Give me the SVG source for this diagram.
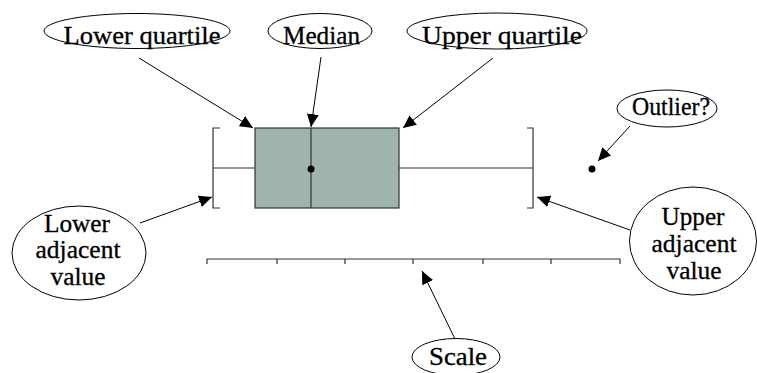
<svg xmlns="http://www.w3.org/2000/svg" width="757" height="373" viewBox="0 0 757 373">
<style>
.lbl{fill:#fff;stroke:#000;stroke-width:1}
.t{font-size:25px;fill:#000;stroke:#000;stroke-width:0.3;text-anchor:middle}
.c{stroke:#000;stroke-width:1;fill:none}
.g{stroke:#333;stroke-width:1.2;fill:none}
</style>
<defs>
<marker id="ah" markerUnits="userSpaceOnUse" markerWidth="14" markerHeight="12" refX="13" refY="6" orient="auto">
<path d="M0,0 L13,6 L0,12 Z" fill="#000"/>
</marker>
</defs>
<rect width="757" height="373" fill="#fff"/>
<g id="plot">
<path class="g" d="M220,128 H213 V208 H220"/>
<line class="g" x1="213" y1="168" x2="255" y2="168"/>
<rect x="255" y="128" width="144" height="80" fill="#9fb4ad" stroke="#333" stroke-width="1.2"/>
<line class="g" x1="311" y1="128" x2="311" y2="208"/>
<line class="g" x1="399" y1="168" x2="533" y2="168"/>
<path class="g" d="M527,128 H533 V208 H527"/>
<circle cx="311" cy="169" r="3.5" fill="#000"/>
<circle cx="592" cy="169" r="3.5" fill="#000"/>
</g>
<g id="scale">
<path class="g" d="M207,264 V259 H620 V264 M277,259 V264 M345,259 V264 M413,259 V264 M483,259 V264 M551,259 V264"/>
</g>
<g id="connectors">
<line class="c" x1="139" y1="58" x2="253" y2="128" marker-end="url(#ah)"/>
<line class="c" x1="321" y1="57" x2="311" y2="127" marker-end="url(#ah)"/>
<line class="c" x1="493" y1="58" x2="403" y2="128" marker-end="url(#ah)"/>
<line class="c" x1="630" y1="126" x2="598" y2="161" marker-end="url(#ah)"/>
<line class="c" x1="140" y1="223" x2="212" y2="197" marker-end="url(#ah)"/>
<line class="c" x1="630" y1="230" x2="537" y2="197" marker-end="url(#ah)"/>
<line class="c" x1="455" y1="339" x2="422" y2="271" marker-end="url(#ah)"/>
</g>
<g font-family="Liberation Serif, DejaVu Serif, serif">
<g id="lower-quartile">
<ellipse class="lbl" cx="137" cy="31" rx="93" ry="17.5"/>
<text class="t" x="142" y="44" textLength="157" lengthAdjust="spacingAndGlyphs">Lower quartile</text>
</g>
<g id="median">
<ellipse class="lbl" cx="320" cy="31" rx="52" ry="17.5"/>
<text class="t" x="321.5" y="44" textLength="77" lengthAdjust="spacingAndGlyphs">Median</text>
</g>
<g id="upper-quartile">
<ellipse class="lbl" cx="497" cy="31" rx="90" ry="18"/>
<text class="t" x="502" y="44" textLength="160" lengthAdjust="spacingAndGlyphs">Upper quartile</text>
</g>
<g id="outlier">
<ellipse class="lbl" cx="667" cy="108.5" rx="50" ry="18.5"/>
<text class="t" x="671" y="115" textLength="78" lengthAdjust="spacingAndGlyphs">Outlier?</text>
</g>
<g id="lower-adjacent">
<ellipse class="lbl" cx="79" cy="253" rx="67" ry="47"/>
<text class="t" x="77" y="232" textLength="66" lengthAdjust="spacingAndGlyphs">Lower</text>
<text class="t" x="78" y="258" textLength="85" lengthAdjust="spacingAndGlyphs">adjacent</text>
<text class="t" x="78" y="285" textLength="55" lengthAdjust="spacingAndGlyphs">value</text>
</g>
<g id="upper-adjacent">
<ellipse class="lbl" cx="693" cy="241" rx="63.5" ry="54"/>
<text class="t" x="693" y="225" textLength="63" lengthAdjust="spacingAndGlyphs">Upper</text>
<text class="t" x="694" y="252" textLength="85" lengthAdjust="spacingAndGlyphs">adjacent</text>
<text class="t" x="694" y="279" textLength="55" lengthAdjust="spacingAndGlyphs">value</text>
</g>
<g id="scale-label">
<ellipse class="lbl" cx="456" cy="357" rx="44" ry="18.5"/>
<text class="t" x="458" y="365" textLength="58" lengthAdjust="spacingAndGlyphs">Scale</text>
</g>
</g>
</svg>
